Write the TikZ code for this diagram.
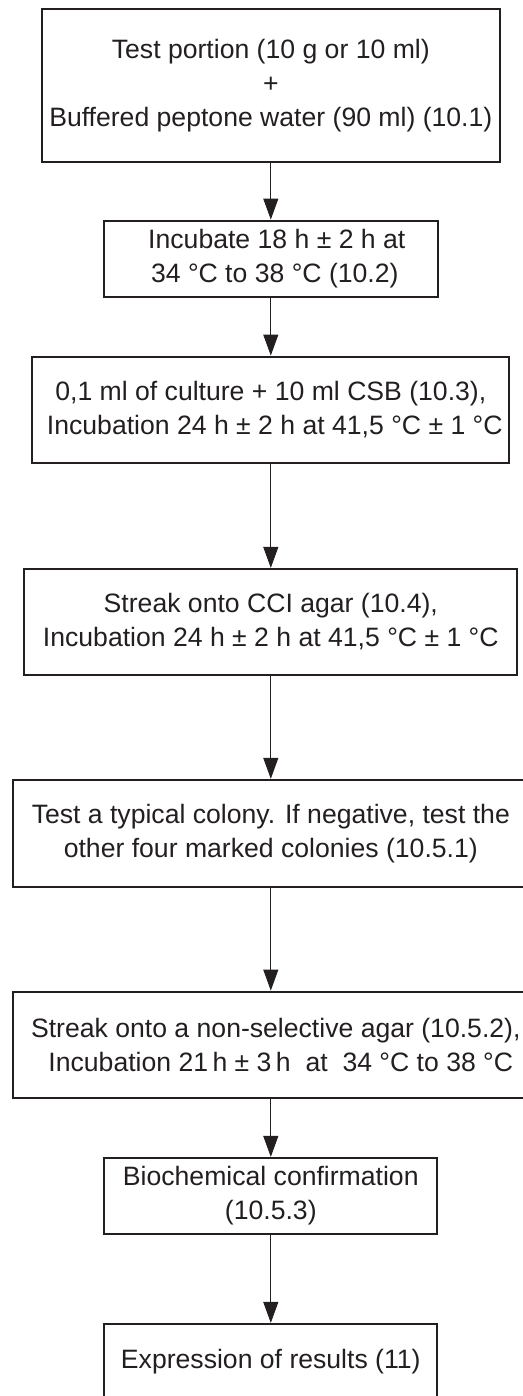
\documentclass[tikz,border=0pt]{standalone}
\usepackage{fontspec}
\setmainfont{Liberation Sans}
\usetikzlibrary{arrows.meta}
\definecolor{ink}{HTML}{231F20}
\begin{document}
\begin{tikzpicture}[x=1pt,y=-1pt,
  box/.style={draw=ink,line width=2.2pt,text=ink,align=center,inner sep=0pt,
    font=\fontsize{26.6}{34}\selectfont},
  arr/.style={draw=ink,line width=0.9pt,-{Triangle[width=15pt,length=21pt]}}]
\useasboundingbox (0,0) rectangle (522,1396);
\node[box,minimum width=458pt,minimum height=153pt] (b1) at (270.8,85.5)
  {Test portion (10 g or 10 ml)\\+\\Buffered peptone water (90 ml) (10.1)};
\node[box,minimum width=334pt,minimum height=76pt] (b2) at (270.8,258.7)
  {\hspace*{12pt}Incubate 18 h ± 2 h at\\\hspace*{8pt}34 °C to 38 °C (10.2)};
\node[box,minimum width=477pt,minimum height=106pt] (b3) at (270.8,409.7)
  {0,1 ml of culture + 10 ml CSB (10.3),\\\hspace*{8pt}Incubation 24 h ± 2 h at 41,5 °C ± 1 °C};
\node[box,minimum width=493pt,minimum height=106pt] (b4) at (270.8,622)
  {Streak onto CCI agar (10.4),\\Incubation 24 h ± 2 h at 41,5 °C ± 1 °C};
\node[box,minimum width=516pt,minimum height=106.7pt] (b5) at (270.8,833.3)
  {Test a typical colony. If negative, test the\\other four marked colonies (10.5.1)};
\node[box,minimum width=516pt,minimum height=106.6pt] (b6) at (270.8,1045)
  {\hspace*{10pt}Streak onto a non-selective agar (10.5.2),\\\hspace*{20pt}Incubation 21\,h ± 3\,h\ \ at\ \ 34 °C to 38 °C};
\node[box,minimum width=333pt,minimum height=76pt] (b7) at (270.8,1196)
  {Biochemical confirmation\\(10.5.3)};
\node[box,minimum width=333pt,minimum height=76pt] (b8) at (270.8,1362)
  {Expression of results (11)};
\draw[arr] (b1) -- (b2);
\draw[arr] (b2) -- (b3);
\draw[arr] (b3) -- (b4);
\draw[arr] (b4) -- (b5);
\draw[arr] (b5) -- (b6);
\draw[arr] (b6) -- (b7);
\draw[arr] (b7) -- (b8);
\end{tikzpicture}
\end{document}
